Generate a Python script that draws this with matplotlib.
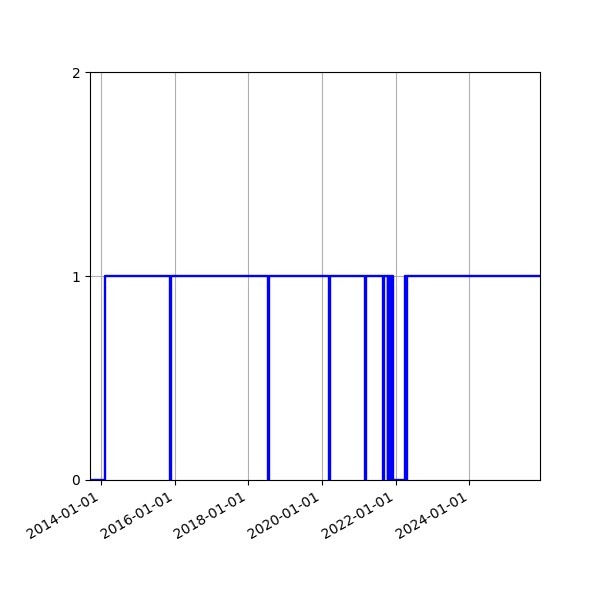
import matplotlib
matplotlib.use("Agg")
import matplotlib.pyplot as plt
import matplotlib.dates as mdates
import numpy as np

# change points of the 0/1 status signal (value holds until the next date)
dates = np.array([
    "2013-09-15", "2014-02-15",
    "2015-11-20", "2015-12-01",
    "2018-07-20", "2018-07-28",
    "2020-03-08", "2020-03-22",
    "2021-03-05", "2021-03-11",
    "2021-08-30", "2021-09-09",
    "2021-10-15", "2021-10-21",
    "2021-11-05", "2021-11-11",
    "2021-12-03", "2022-04-06",
    "2022-04-12", "2022-04-18",
    "2025-12-01",
], dtype="datetime64[D]")
status = [0, 1,
          0, 1,
          0, 1,
          0, 1,
          0, 1,
          0, 1,
          0, 1,
          0, 1,
          0, 1,
          0, 1,
          1]

fig, ax = plt.subplots(figsize=(6, 6), dpi=100)
ax.plot(dates, status, drawstyle="steps-post", color="blue", lw=1.7)

ax.set_xlim(dates[0], dates[-1])
ax.set_ylim(0, 2)
ax.set_yticks([0, 1, 2])
ax.xaxis.set_major_locator(mdates.YearLocator(2))
ax.xaxis.set_major_formatter(mdates.DateFormatter("%Y-%m-%d"))
ax.grid(True)
fig.autofmt_xdate()
fig.subplots_adjust(left=0.15, right=0.9, top=0.88, bottom=0.2)

plt.savefig("out.png")
